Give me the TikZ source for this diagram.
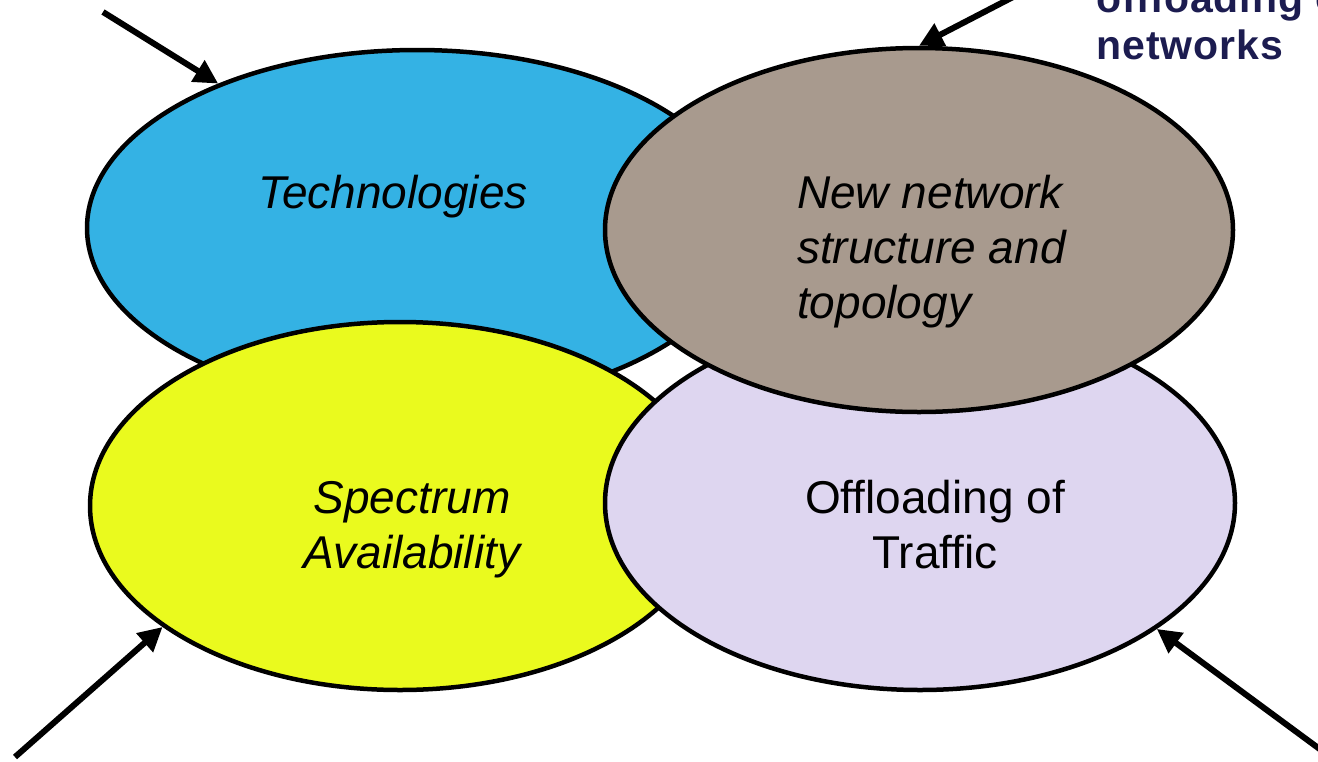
\documentclass[tikz,border=0pt]{standalone}
\usepackage{fontspec}
\setmainfont{Liberation Sans}
\usetikzlibrary{shapes.geometric,arrows.meta}
\definecolor{cblue}{RGB}{52,178,228}
\definecolor{cbrown}{RGB}{168,154,142}
\definecolor{cyellow}{RGB}{234,250,30}
\definecolor{clav}{RGB}{222,214,240}
\definecolor{cnavy}{RGB}{28,28,80}
\begin{document}
\begin{tikzpicture}[x=1pt,y=-1pt,
  blob/.style={ellipse, draw=black, line width=4.5pt, inner sep=0pt},
  lbl/.style={inner sep=0pt, font=\fontsize{46}{55}\selectfont},
  feed/.style={line width=6pt, -{Triangle[length=24pt,width=24pt]}},
  note/.style={inner sep=0pt, align=left, text=cnavy, font=\fontsize{41}{47}\selectfont\bfseries\addfontfeature{LetterSpace=2.5}}
]
\path[use as bounding box] (0,0) rectangle (1318,761);
\clip (0,0) rectangle (1318,761);
% ellipses, back to front
\node[blob, fill=cblue, minimum width=660pt, minimum height=356pt] (tech) at (417,228) {};
\node[blob, fill=cyellow, minimum width=620pt, minimum height=368pt] (spec) at (400,506) {};
\node[blob, fill=clav, minimum width=630pt, minimum height=374pt] (off) at (920,503) {};
\node[blob, fill=cbrown, minimum width=628pt, minimum height=364pt] (net) at (919,230) {};
% labels
\node[lbl, font=\fontsize{46}{55}\selectfont\itshape, anchor=base] (ttech) at (393,208) {Technologies};
\node[lbl, font=\fontsize{46}{55}\selectfont\itshape, align=left, anchor=north west] (tnet) at (797,175) {New network\\structure and\\topology};
\node[lbl, font=\fontsize{46}{55}\selectfont\itshape, align=center, anchor=north] (tspec) at (412,481) {Spectrum\\Availability};
\node[lbl, align=center, anchor=north] (toff) at (935,480) {Offloading of\\Traffic};
\node[note, anchor=north west] (tnote) at (1096,-17) {offloading of\\networks};
% arrows
\coordinate (s1) at (103,12);
\coordinate (s2) at (1042,-18);
\coordinate (s3) at (15,757);
\coordinate (s4) at (1340,764);
\draw[feed] (s1) -- (tech.144);
\draw[feed] (s2) -- (net.90);
\draw[feed] (s3) -- (spec.207.5);
\draw[feed] (s4) -- (off.-28.5);
\end{tikzpicture}
\end{document}
